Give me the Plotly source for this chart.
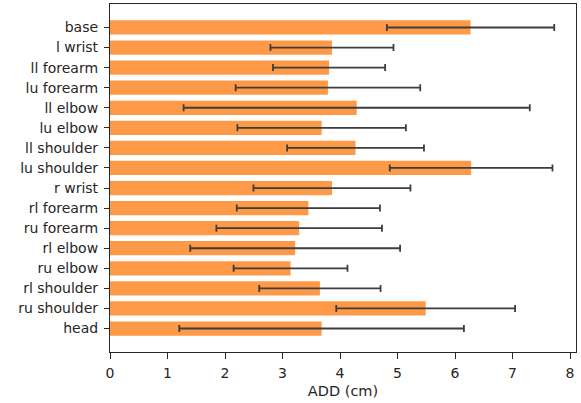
import plotly.graph_objects as go

categories = ["base", "l wrist", "ll forearm", "lu forearm", "ll elbow", "lu elbow",
              "ll shoulder", "lu shoulder", "r wrist", "rl forearm", "ru forearm",
              "rl elbow", "ru elbow", "rl shoulder", "ru shoulder", "head"]
add_mean = [6.27, 3.86, 3.81, 3.79, 4.29, 3.68, 4.27, 6.28, 3.86, 3.45, 3.29,
            3.22, 3.14, 3.65, 5.49, 3.68]
add_err = [1.455, 1.07, 0.975, 1.605, 3.01, 1.465, 1.19, 1.415, 1.365, 1.245, 1.44,
           1.825, 0.99, 1.055, 1.555, 2.475]
x_ticks = [0, 1, 2, 3, 4, 5, 6, 7, 8]

font = dict(family="DejaVu Sans", size=14, color="#262626")
title_font = dict(family="DejaVu Sans", size=14.5, color="#262626")

fig = go.Figure(go.Bar(
    y=categories, x=add_mean, orientation="h",
    marker=dict(color="#FE9A47", line=dict(width=0)),
    width=0.71,
    error_x=dict(type="data", array=add_err, symmetric=True,
                 color="#3d3d3d", thickness=1.8, width=3.5),
))

fig.update_layout(
    width=581, height=403,
    margin=dict(l=110, r=5, t=4, b=51, autoexpand=False),
    plot_bgcolor="white", paper_bgcolor="white",
    font=font, showlegend=False,
    xaxis=dict(range=[0, 8.104], tickvals=x_ticks, ticks="outside", ticklen=6,
               tickwidth=1.2, tickcolor="#262626", showgrid=False, zeroline=False,
               showline=True, linecolor="#262626", linewidth=1.2, mirror=True,
               automargin=False, ticklabelstandoff=2,
               title=dict(text="ADD (cm)", font=title_font, standoff=5)),
    yaxis=dict(range=[16.17, -1.17], ticks="outside", ticklen=5, tickwidth=1.2,
               tickcolor="#262626", showgrid=False, zeroline=False,
               showline=True, linecolor="#262626", linewidth=1.2, mirror=True,
               automargin=False, ticklabelstandoff=3,
               categoryorder="array", categoryarray=categories),
)

fig.write_html("out.html", config={"displayModeBar": False},
               post_script="document.body.style.margin='0px';")
